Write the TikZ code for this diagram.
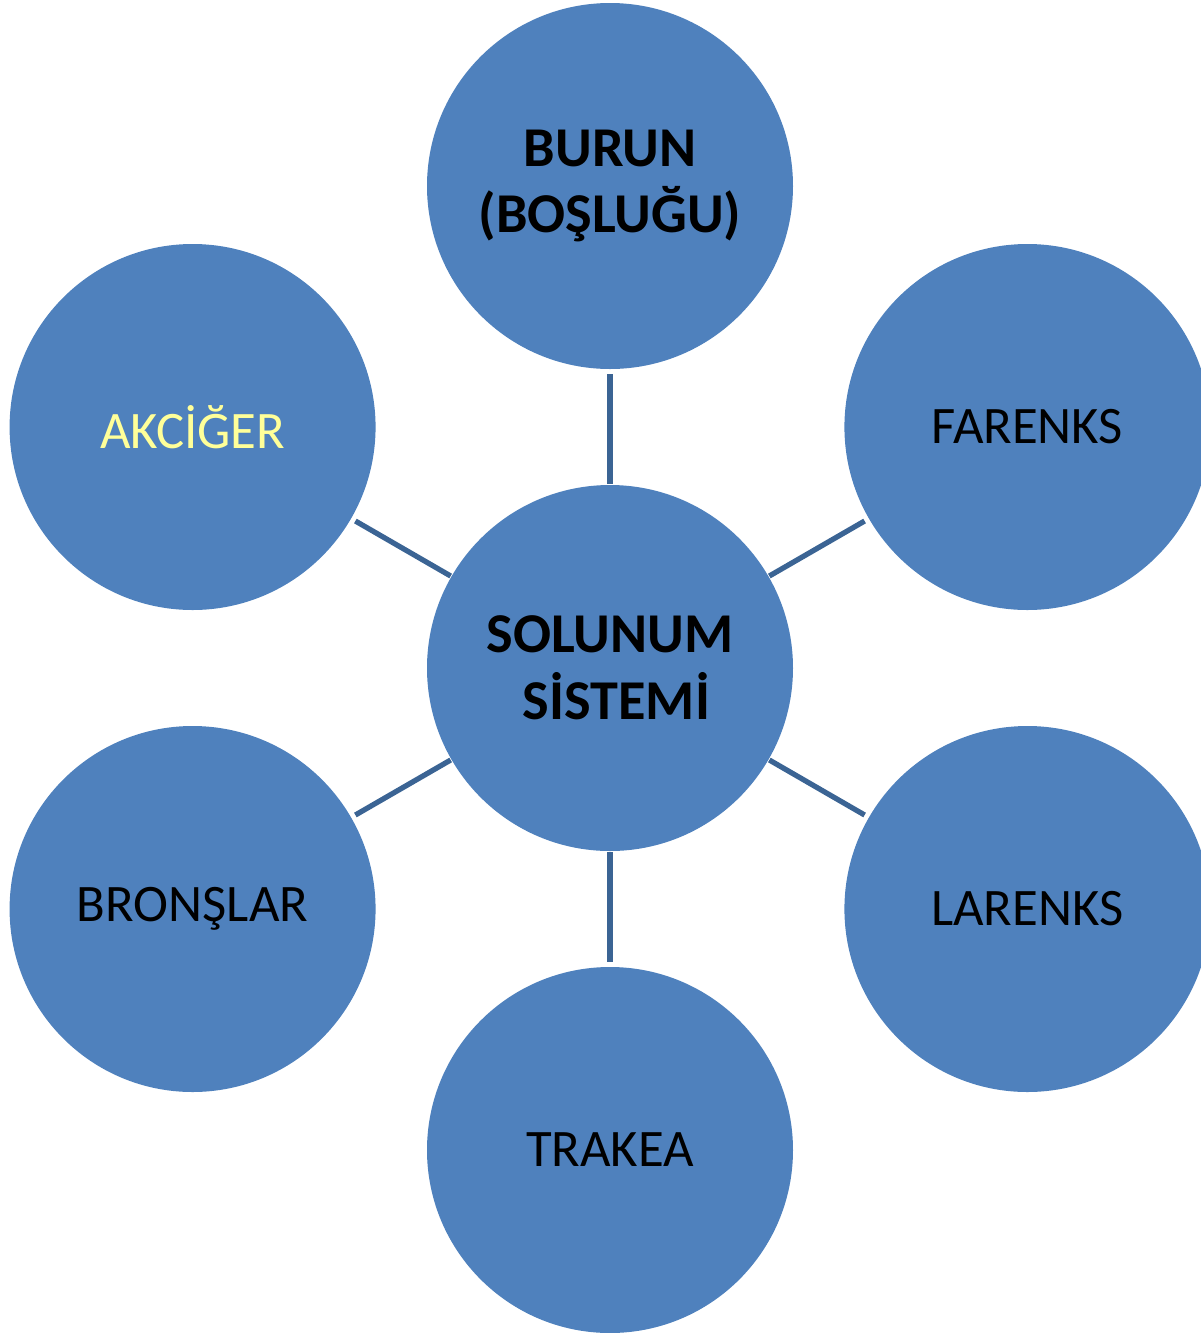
\documentclass[tikz,border=0pt]{standalone}
\usepackage{fontspec}
\setmainfont{Carlito}
\usetikzlibrary{positioning}

\definecolor{organfill}{HTML}{4F81BD}
\definecolor{linkblue}{HTML}{3B6494}
\definecolor{lightyellow}{HTML}{FFFF99}

\begin{document}
\begin{tikzpicture}[
    node distance=2.32cm,
    organ/.style={
        circle,
        fill=organfill,
        draw=none,
        inner sep=0pt,
        outer sep=0pt,
        minimum size=7.32cm,
        align=center,
        font=\fontsize{30}{37}\selectfont
    },
    title/.style={
        font=\fontsize{32}{38}\selectfont\bfseries
    },
    link/.style={
        line width=3pt,
        draw=linkblue,
        shorten <=0.02cm,
        shorten >=0.1cm
    }
]
\useasboundingbox (0,0) rectangle (24.02,-26.66);

% Nodes
\node (sistem) [organ, title] at (12.2,-13.36) {SOLUNUM\\\hspace*{0.23em}SİSTEMİ};
\node (burun) [organ, title, above=of sistem] {BURUN\\(BOŞLUĞU)};
\node (farenks) [organ] at ([shift={(30:9.64)}]sistem.center) {FARENKS};
\node (larenks) [organ] at ([shift={(-30:9.64)}]sistem.center) {LARENKS};
\node (trakea) [organ, below=of sistem] {TRAKEA};
\node (bronslar) [organ] at ([shift={(210:9.64)}]sistem.center) {BRONŞLAR};
\node (akciger) [organ, text=lightyellow] at ([shift={(150:9.64)}]sistem.center) {AKCİĞER};

% Paths
\draw [link] (sistem) -- (burun);
\draw [link] (sistem) -- (farenks);
\draw [link] (sistem) -- (larenks);
\draw [link] (sistem) -- (trakea);
\draw [link] (sistem) -- (bronslar);
\draw [link] (sistem) -- (akciger);

\end{tikzpicture}
\end{document}
